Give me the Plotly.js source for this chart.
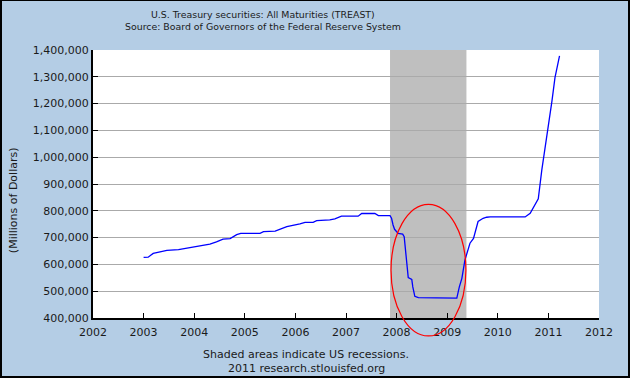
<!DOCTYPE html>
<html>
<head>
<meta charset="utf-8">
<script src="https://cdn.plot.ly/plotly-3.0.1.min.js"></script>
<style>
html,body{margin:0;padding:0;background:#b4cde5;}
#wrap{position:relative;width:630px;height:378px;}
#chart{width:630px;height:378px;}
#frame{position:absolute;left:0;top:0;width:630px;height:378px;box-sizing:border-box;border:2px solid #000;border-top-width:1px;pointer-events:none;}
</style>
</head>
<body>
<div id="wrap"><div id="chart"></div><div id="frame"></div></div>
<script>
// Weekly-ish readings of TREAST (millions of dollars), decimal years
const years = [2003.00, 2003.09, 2003.19, 2003.29, 2003.46, 2003.69, 2003.88, 2004.11, 2004.31, 2004.44,
  2004.57, 2004.71, 2004.84, 2004.92, 2005.30, 2005.37, 2005.60, 2005.83, 2005.99, 2006.09,
  2006.19, 2006.35, 2006.42, 2006.68, 2006.78, 2006.91, 2007.24, 2007.31, 2007.57, 2007.64,
  2007.87, 2007.90, 2007.93, 2007.96, 2008.03, 2008.12, 2008.15, 2008.19, 2008.23, 2008.30,
  2008.32, 2008.36, 2008.43, 2008.79, 2009.19, 2009.24, 2009.29, 2009.35, 2009.45, 2009.52,
  2009.57, 2009.61, 2009.71, 2009.78, 2009.85, 2010.54, 2010.64, 2010.74, 2010.80, 2010.87,
  2010.93, 2011.00, 2011.07, 2011.13, 2011.20, 2011.22];
const treasuries = [626000, 627000, 641000, 646000, 652000, 655000, 662000, 670000, 676000, 684000,
  694000, 696000, 711000, 716000, 716000, 722000, 724000, 741000, 746000, 751000,
  757000, 757000, 763000, 766000, 770000, 780000, 780000, 790000, 790000, 782000,
  782000, 772000, 747000, 731000, 716000, 713000, 703000, 628000, 551000, 544000,
  516000, 481000, 476000, 475000, 474000, 516000, 548000, 616000, 679000, 697000,
  735000, 760000, 772000, 776000, 777000, 777000, 791000, 822000, 845000, 953000,
  1028000, 1109000, 1209000, 1297000, 1372000, 1378000];

const xTickVals = [2002, 2003, 2004, 2005, 2006, 2007, 2008, 2009, 2010, 2011, 2012];
const xTickText = ["2002", "2003", "2004", "2005", "2006", "2007", "2008", "2009", "2010", "2011", "2012"];
const yTickVals = [400000, 500000, 600000, 700000, 800000, 900000, 1000000, 1100000, 1200000, 1300000, 1400000];

const recessionStart = 2007.87, recessionEnd = 2009.38;
const circleX = [2007.89, 2009.37];

const titleLine1 = "U.S. Treasury securities: All Maturities (TREAST)";
const titleLine2 = "Source: Board of Governors of the Federal Reserve System";
const yTitle = "(Millions of Dollars)";
const note1 = "Shaded areas indicate US recessions.";
const note2 = "2011 research.stlouisfed.org";

const FONT = "DejaVu Sans, Verdana, sans-serif";
const TXT = "#1a1a1a";

const trace = {
  x: years, y: treasuries, type: "scatter", mode: "lines",
  line: {color: "#0000ff", width: 1.3}, hoverinfo: "skip"
};

const layout = {
  width: 630, height: 378,
  margin: {l: 93, r: 31, t: 50, b: 60, pad: 0},
  paper_bgcolor: "#b4cde5", plot_bgcolor: "#ffffff",
  showlegend: false,
  font: {family: FONT, size: 11, color: TXT},
  xaxis: {
    range: [2002, 2012], tickvals: xTickVals, ticktext: xTickText,
    showgrid: false, zeroline: false, showline: true, linecolor: "#000", linewidth: 2,
    ticks: "inside", ticklen: 5, tickcolor: "#000", tickwidth: 1, ticklabelstandoff: 3,
    tickfont: {family: FONT, size: 11, color: TXT}
  },
  yaxis: {
    range: [400000, 1400000], tickvals: yTickVals, tickformat: ",d",
    showgrid: true, gridcolor: "#aaaaaa", gridwidth: 1, zeroline: false,
    showline: true, linecolor: "#000", linewidth: 2,
    ticks: "inside", ticklen: 5, tickcolor: "#000", tickwidth: 1,
    tickfont: {family: FONT, size: 11, color: TXT}
  },
  shapes: [
    {type: "rect", xref: "x", yref: "paper", x0: recessionStart, x1: recessionEnd, y0: 0, y1: 1,
     fillcolor: "#bfbfbf", line: {width: 0}, layer: "below"},
    {type: "circle", xref: "x", yref: "paper", x0: circleX[0], x1: circleX[1], y0: -0.067, y1: 0.424,
     line: {color: "#ff0000", width: 1.2}, layer: "above"}
  ],
  annotations: [
    {text: titleLine1, xref: "paper", yref: "paper", x: 0.336, y: 1.134, xanchor: "center", yanchor: "middle", showarrow: false, font: {family: FONT, size: 9.4, color: TXT}},
    {text: titleLine2, xref: "paper", yref: "paper", x: 0.336, y: 1.088, xanchor: "center", yanchor: "middle", showarrow: false, font: {family: FONT, size: 9.4, color: TXT}},
    {text: yTitle, xref: "paper", yref: "paper", x: -0.158, y: 0.44, xanchor: "center", yanchor: "middle", textangle: -90, showarrow: false, font: {family: FONT, size: 11, color: TXT}},
    {text: note1, xref: "paper", yref: "paper", x: 0.421, y: -0.138, xanchor: "center", yanchor: "middle", showarrow: false, font: {family: FONT, size: 11, color: TXT}},
    {text: note2, xref: "paper", yref: "paper", x: 0.421, y: -0.187, xanchor: "center", yanchor: "middle", showarrow: false, font: {family: FONT, size: 11, color: TXT}}
  ]
};

Plotly.newPlot("chart", [trace], layout, {displayModeBar: false, staticPlot: true});
</script>
</body>
</html>
